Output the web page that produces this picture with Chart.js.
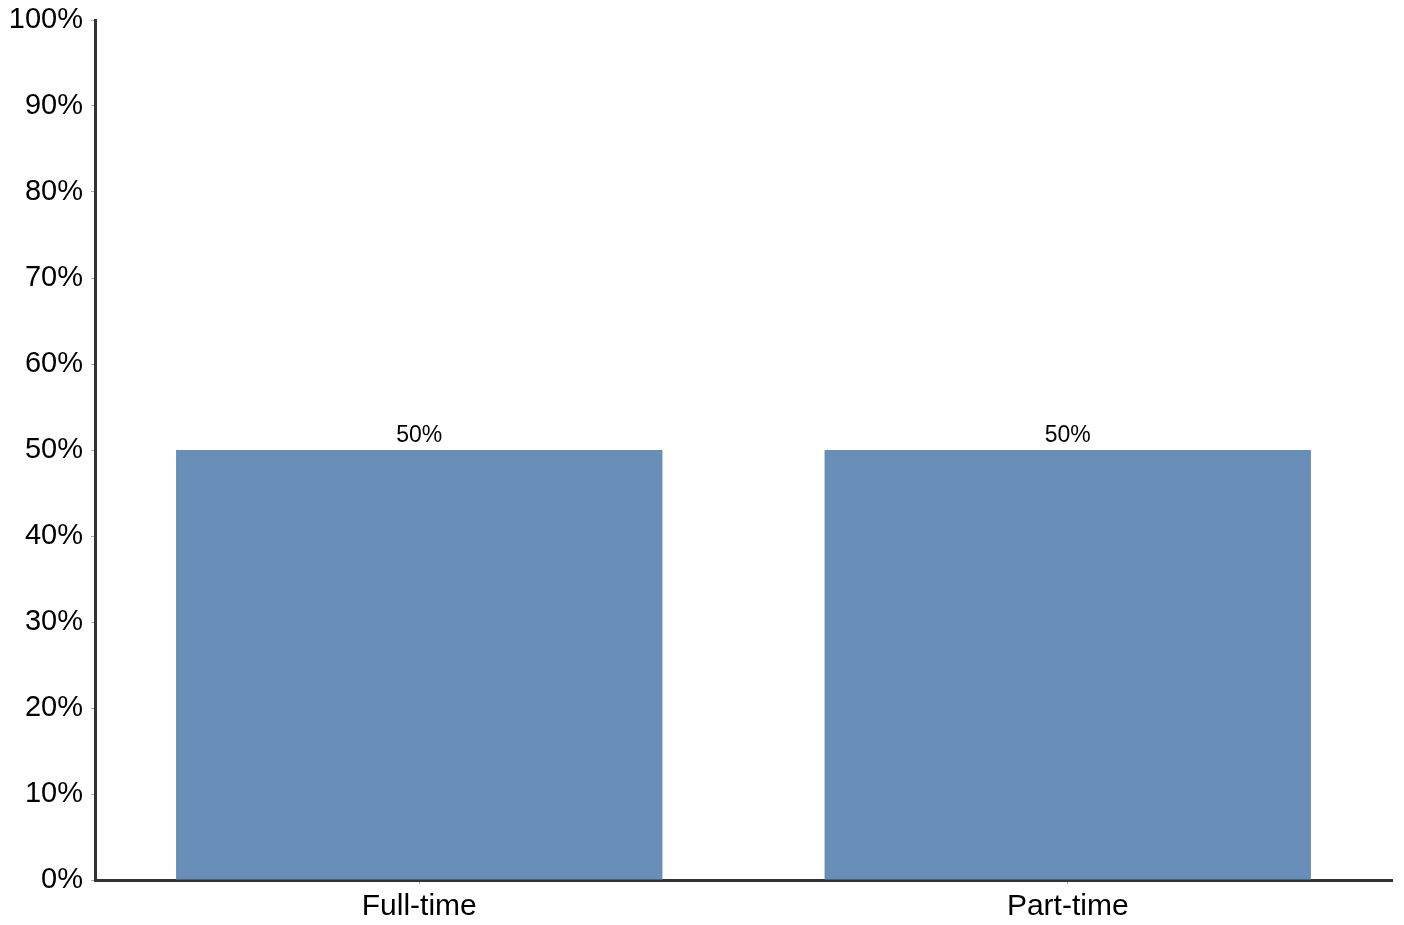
<!DOCTYPE html>
<html>
<head>
<meta charset="utf-8">
<script src="https://cdn.jsdelivr.net/npm/chart.js@4/dist/chart.umd.min.js"></script>
<style>
  body { margin: 0; background: #fff; }
  #wrap { width: 1404px; height: 925px; }
</style>
</head>
<body>
<div id="wrap"><canvas id="chart" width="1404" height="925"></canvas></div>
<script>
const categories = ['Full-time', 'Part-time'];
const shares = [50, 50];
const yTicks = [0, 10, 20, 30, 40, 50, 60, 70, 80, 90, 100];

const barLabels = {
    id: 'barLabels',
    afterDatasetsDraw(chart) {
        const ctx = chart.ctx;
        const meta = chart.getDatasetMeta(0);
        ctx.save();
        ctx.font = '23px "Liberation Sans", Arial, sans-serif';
        ctx.fillStyle = '#000';
        ctx.textAlign = 'center';
        ctx.textBaseline = 'bottom';
        meta.data.forEach((bar, i) => {
            ctx.fillText(shares[i] + '%', bar.x, bar.y - 3);
        });
        ctx.restore();
    }
};

const ctx = document.getElementById('chart').getContext('2d');
new Chart(ctx, {
    type: 'bar',
    data: {
        labels: categories,
        datasets: [{
            data: shares,
            backgroundColor: '#688db6',
            barPercentage: 0.75,
            categoryPercentage: 1,
        }],
    },
    options: {
        responsive: false,
        animation: false,
        layout: { padding: { top: 20, right: 12, left: 0, bottom: 0 } },
        plugins: { legend: { display: false }, tooltip: { enabled: false } },
        scales: {
            x: {
                grid: { drawOnChartArea: false, offset: false, color: '#aaa', tickLength: 4 },
                border: { color: '#333', width: 3 },
                ticks: {
                    color: '#000',
                    padding: 5,
                    font: { family: '"Liberation Sans", Arial, sans-serif', size: 30 },
                },
                afterFit(scale) { scale.height = 45; },
            },
            y: {
                min: 0,
                max: 100,
                afterBuildTicks(scale) { scale.ticks = yTicks.map(v => ({ value: v })); },
                grid: { drawOnChartArea: false, color: '#aaa', tickLength: 4 },
                border: { color: '#333', width: 3 },
                ticks: {
                    color: '#000',
                    padding: 8,
                    font: { family: '"Liberation Sans", Arial, sans-serif', size: 29, lineHeight: 0.8 },
                    callback: v => v + '%',
                },
                afterFit(scale) { scale.width = 95; },
            },
        },
    },
    plugins: [barLabels],
});
</script>
</body>
</html>
